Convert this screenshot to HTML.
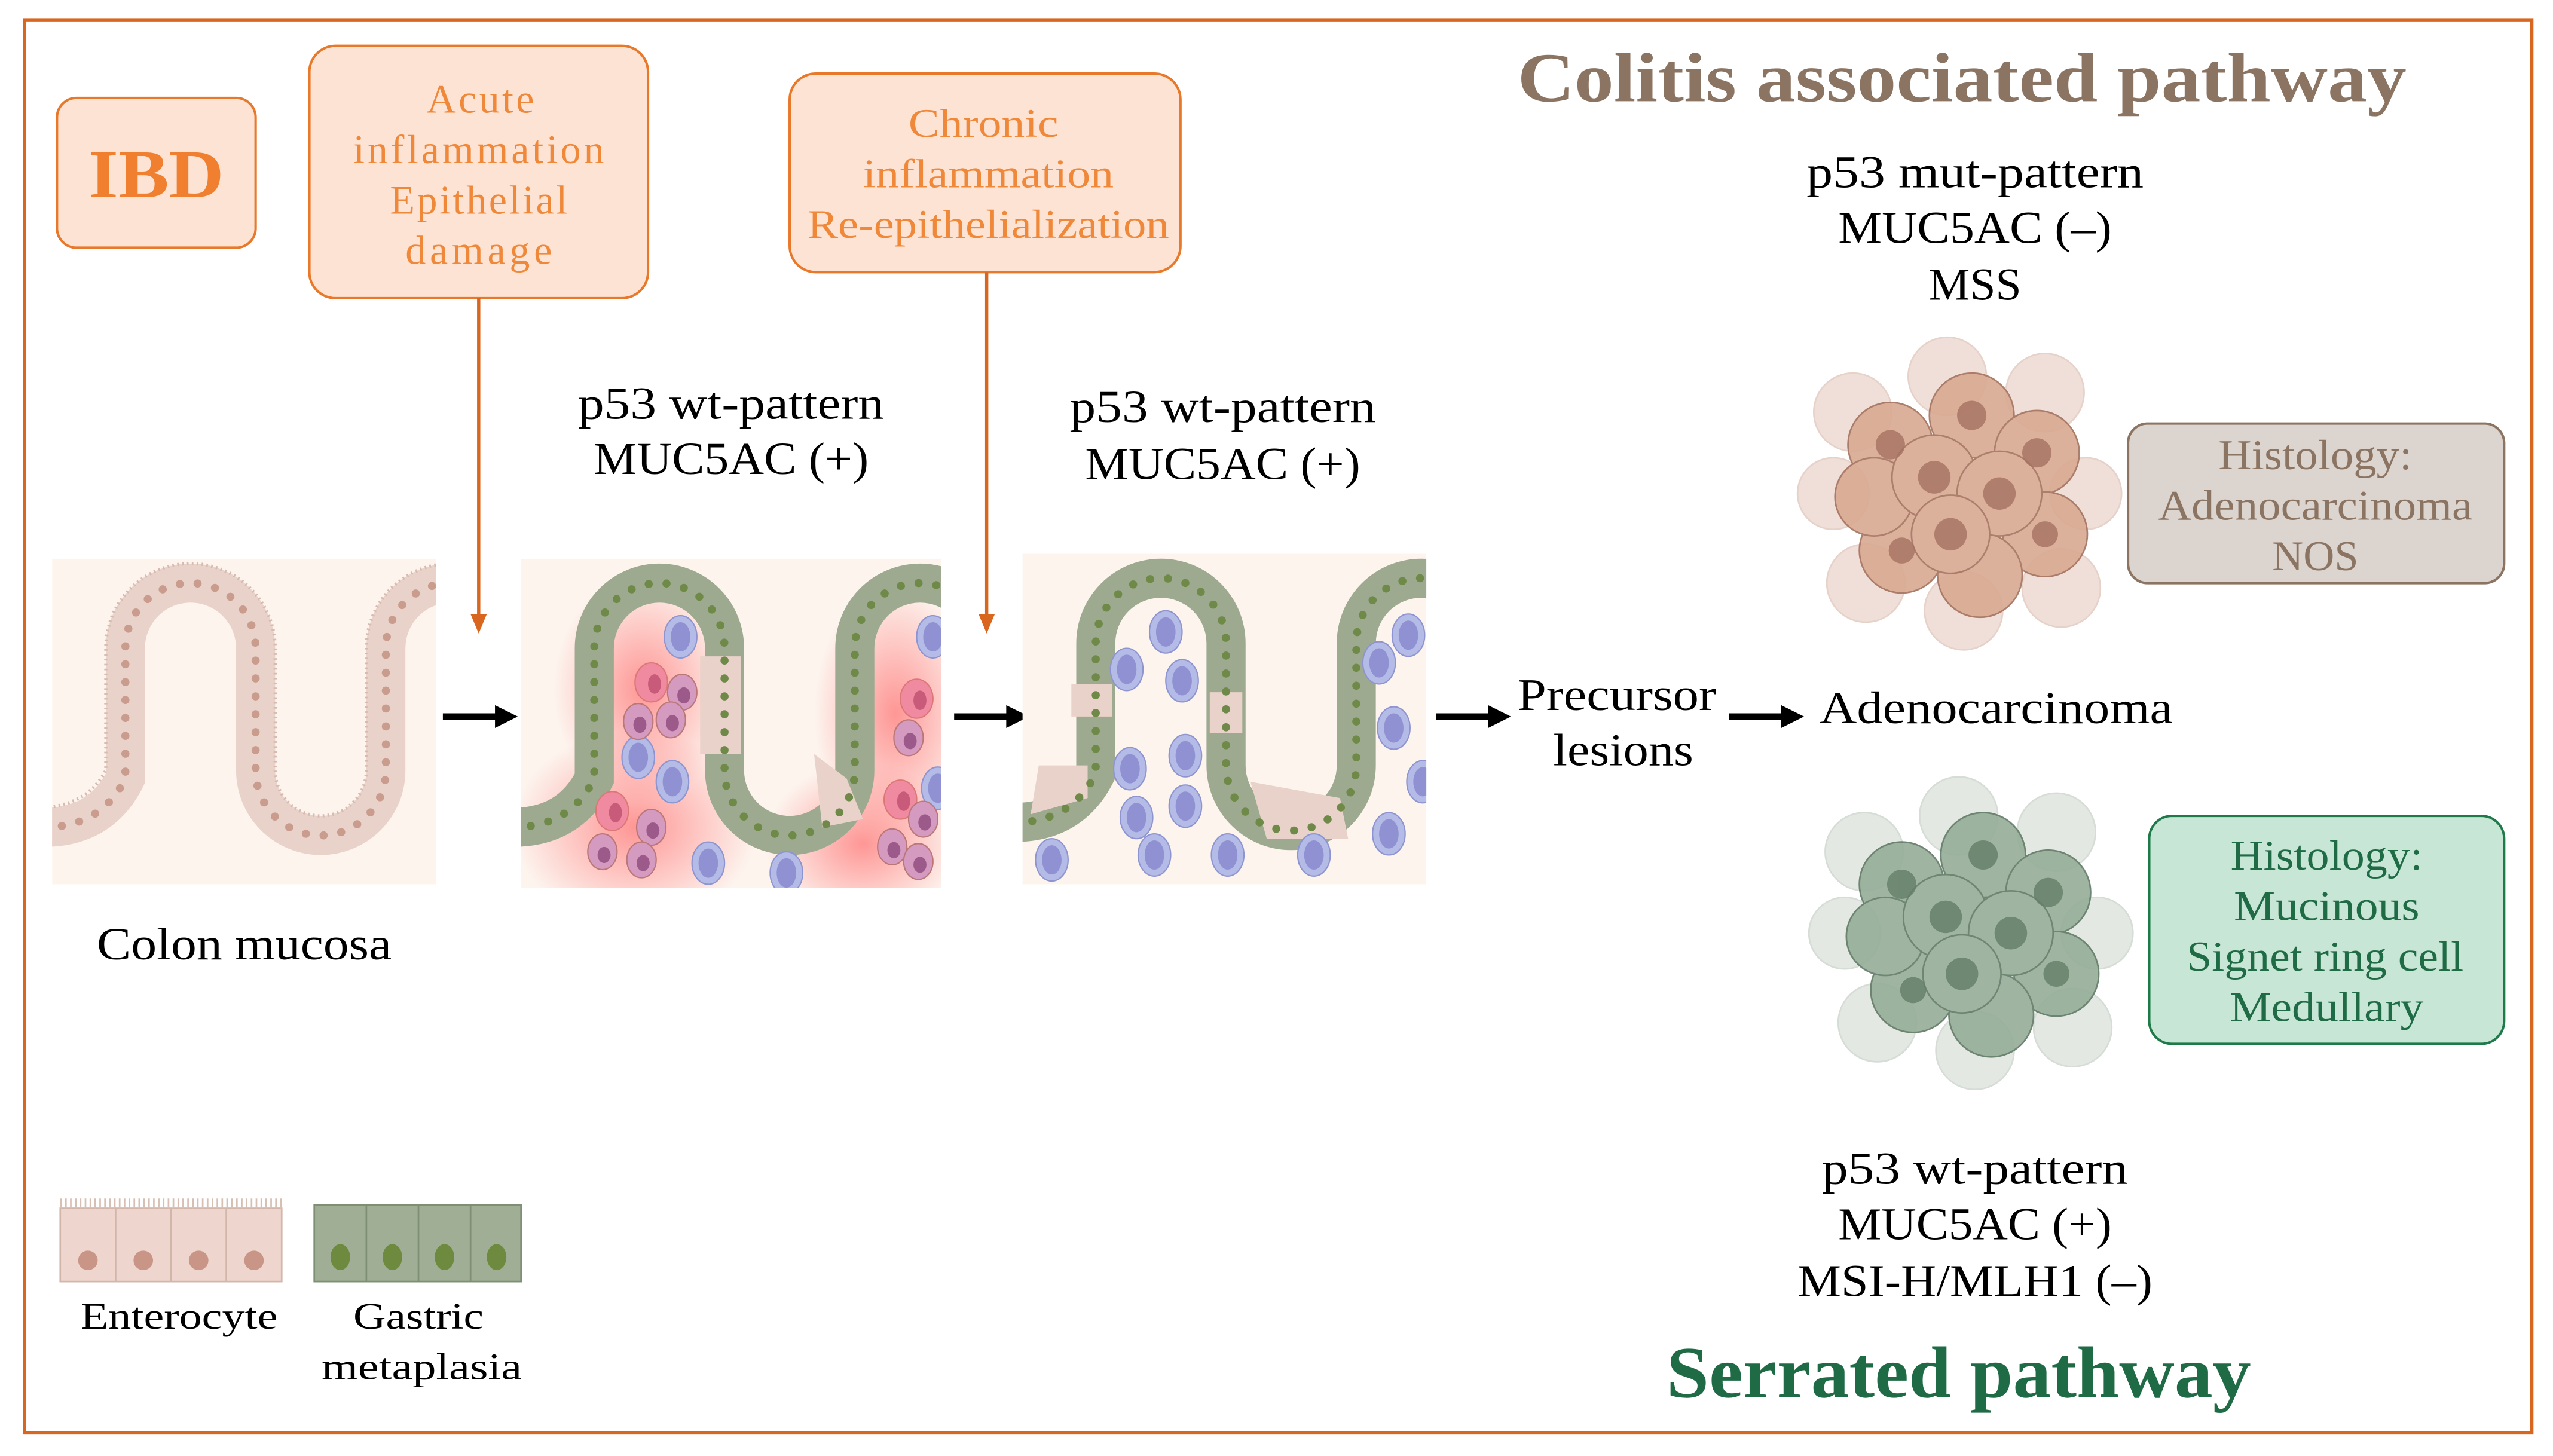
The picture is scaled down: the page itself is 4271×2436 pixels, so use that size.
<!DOCTYPE html>
<html><head><meta charset="utf-8"><style>
html,body{margin:0;padding:0;background:#fff;}
svg{display:block;}
text{font-family:"Liberation Serif",serif;}
</style></head><body>
<svg width="4271" height="2436" viewBox="0 0 1568 894" xmlns="http://www.w3.org/2000/svg">
<defs>
<radialGradient id="rg"><stop offset="0" stop-color="#f77" stop-opacity="0.75"/><stop offset="1" stop-color="#f77" stop-opacity="0"/></radialGradient>
<clipPath id="c1"><rect x="0" y="0" width="236" height="200"/></clipPath>
<clipPath id="c2"><rect x="0" y="0" width="258" height="202"/></clipPath>
<clipPath id="c3"><rect x="0" y="0" width="248" height="203"/></clipPath>
<g id="bc"><ellipse rx="10" ry="13" fill="#b3bbe6" stroke="#8d94d0" stroke-width="0.8"/><ellipse rx="6" ry="9" fill="#8f91d2"/></g>
<g id="nc"><ellipse rx="10" ry="12" fill="#f08aa0" stroke="#d77" stroke-width="0.8"/><ellipse cx="2" cy="1" rx="4" ry="6" fill="#c85a7a"/></g>
<g id="nc2"><ellipse rx="9" ry="11" fill="#d59ac0" stroke="#b77" stroke-width="0.8"/><ellipse cx="1" cy="2" rx="4" ry="5" fill="#9c5a8a"/></g>
</defs>
<rect x="0" y="0" width="1568" height="894" fill="#fff"/>
<rect x="15" y="12" width="1540" height="868" fill="none" stroke="#d9661f" stroke-width="2"/>

<rect x="35" y="60" width="122" height="92" rx="12" fill="#fde3d4" stroke="#e8782a" stroke-width="1.5"/>
<text x="96" y="121" font-size="42" font-weight="bold" fill="#f08030" text-anchor="middle" textLength="83" lengthAdjust="spacingAndGlyphs">IBD</text>

<rect x="190" y="28" width="208" height="155" rx="16" fill="#fde3d4" stroke="#e8782a" stroke-width="1.5"/>
<g font-size="25" fill="#f0883a" text-anchor="middle" lengthAdjust="spacingAndGlyphs">
<text x="295" y="69" textLength="66">Acute</text><text x="294" y="100" textLength="154">inflammation</text><text x="294" y="131" textLength="109">Epithelial</text><text x="294" y="162" textLength="90">damage</text>
</g>
<line x1="294" y1="183" x2="294" y2="378" stroke="#d9661f" stroke-width="2"/>
<polygon points="289,377 299,377 294,389" fill="#d9661f"/>

<rect x="485" y="45" width="240" height="122" rx="16" fill="#fde3d4" stroke="#e8782a" stroke-width="1.5"/>
<g font-size="25" fill="#f0883a" text-anchor="middle">
<text x="604" y="84" textLength="92" lengthAdjust="spacingAndGlyphs">Chronic</text><text x="607" y="115" textLength="154" lengthAdjust="spacingAndGlyphs">inflammation</text><text x="607" y="146" textLength="222" lengthAdjust="spacingAndGlyphs">Re-epithelialization</text>
</g>
<line x1="606" y1="167" x2="606" y2="378" stroke="#d9661f" stroke-width="2"/>
<polygon points="601,377 611,377 606,389" fill="#d9661f"/>

<text x="1205" y="62" font-size="43" font-weight="bold" fill="#8c7462" text-anchor="middle" textLength="546" lengthAdjust="spacingAndGlyphs">Colitis associated pathway</text>
<g font-size="28" fill="#000" text-anchor="middle">
<text x="1213" y="115" textLength="207" lengthAdjust="spacingAndGlyphs">p53 mut-pattern</text><text x="1213" y="149" textLength="168" lengthAdjust="spacingAndGlyphs">MUC5AC (–)</text><text x="1213" y="184" textLength="57" lengthAdjust="spacingAndGlyphs">MSS</text>
<text x="449" y="257" textLength="188" lengthAdjust="spacingAndGlyphs">p53 wt-pattern</text><text x="449" y="291" textLength="169" lengthAdjust="spacingAndGlyphs">MUC5AC (+)</text>
<text x="751" y="259" textLength="188" lengthAdjust="spacingAndGlyphs">p53 wt-pattern</text><text x="751" y="294" textLength="169" lengthAdjust="spacingAndGlyphs">MUC5AC (+)</text>
<text x="993" y="436" textLength="122" lengthAdjust="spacingAndGlyphs">Precursor</text><text x="997" y="470" textLength="86" lengthAdjust="spacingAndGlyphs">lesions</text>
<text x="1226" y="444" textLength="217" lengthAdjust="spacingAndGlyphs">Adenocarcinoma</text>
<text x="150" y="589" textLength="181" lengthAdjust="spacingAndGlyphs">Colon mucosa</text>
<text x="1213" y="727" textLength="188" lengthAdjust="spacingAndGlyphs">p53 wt-pattern</text><text x="1213" y="761" textLength="168" lengthAdjust="spacingAndGlyphs">MUC5AC (+)</text><text x="1213" y="796" textLength="218" lengthAdjust="spacingAndGlyphs">MSI-H/MLH1 (–)</text>
</g>
<text x="1203" y="858" font-size="45" font-weight="bold" fill="#1f6b45" text-anchor="middle" textLength="359" lengthAdjust="spacingAndGlyphs">Serrated pathway</text>

<g stroke="#000" stroke-width="4">
<line x1="272" y1="440" x2="306" y2="440"/><line x1="586" y1="440" x2="620" y2="440"/>
<line x1="882" y1="440" x2="916" y2="440"/><line x1="1062" y1="440" x2="1096" y2="440"/>
</g>
<g fill="#000">
<polygon points="304,433 318,440 304,447"/><polygon points="618,433 632,440 618,447"/>
<polygon points="914,433 928,440 914,447"/><polygon points="1094,433 1108,440 1094,447"/>
</g>

<g transform="translate(32,343)">
<g clip-path="url(#c1)">
<rect width="236" height="200" fill="#fdf4ee"/>
<path d="M-5,165 Q30,165 45,135 L45,55 A40,40 0 0 1 125,55 L125,130 A40,40 0 0 0 205,130 L205,55 A40,40 0 0 1 285,55" fill="none" stroke="#e9d2c9" stroke-width="24"/>
<path d="M-5,165 Q30,165 45,135 L45,55 A40,40 0 0 1 125,55 L125,130 A40,40 0 0 0 205,130 L205,55 A40,40 0 0 1 285,55" fill="none" stroke="#c99c8e" stroke-width="5" stroke-linecap="round" stroke-dasharray="0 11"/>
<path d="M-5,153 Q22,151 33,130 L33,55 A52,52 0 0 1 137,55 L137,130 A28,28 0 0 0 193,130 L193,55 A52,52 0 0 1 297,55" fill="none" stroke="#d8bbb0" stroke-width="2" stroke-dasharray="1 2"/>
</g></g>

<g transform="translate(320,343)">
<g clip-path="url(#c2)">
<rect width="258" height="202" fill="#fdf4ee"/>
<ellipse cx="75" cy="80" rx="55" ry="70" fill="url(#rg)"/>
<ellipse cx="70" cy="165" rx="75" ry="60" fill="url(#rg)"/>
<ellipse cx="230" cy="95" rx="50" ry="80" fill="url(#rg)"/>
<ellipse cx="210" cy="175" rx="60" ry="50" fill="url(#rg)"/>
<path d="M-5,165 Q30,165 45,135 L45,55 A40,40 0 0 1 125,55 L125,130 A40,40 0 0 0 205,130 L205,55 A40,40 0 0 1 285,55" fill="none" stroke="#9daa90" stroke-width="24"/>
<path d="M110,60 L135,60 L135,120 L110,120 Z M180,120 L200,135 L210,160 L185,165 Z" fill="#e9d2c9"/>
<path d="M-5,165 Q30,165 45,135 L45,55 A40,40 0 0 1 125,55 L125,130 A40,40 0 0 0 205,130 L205,55 A40,40 0 0 1 285,55" fill="none" stroke="#6f8a48" stroke-width="5" stroke-linecap="round" stroke-dasharray="0 11"/>
<use href="#bc" x="98" y="48"/><use href="#bc" x="72" y="122"/><use href="#bc" x="93" y="137"/>
<use href="#bc" x="253" y="48"/><use href="#bc" x="256" y="141"/><use href="#bc" x="115" y="187"/><use href="#bc" x="163" y="193"/>
<use href="#nc" x="80" y="76"/><use href="#nc2" x="99" y="82"/><use href="#nc2" x="72" y="100"/><use href="#nc2" x="92" y="99"/>
<use href="#nc" x="243" y="86"/><use href="#nc2" x="238" y="110"/>
<use href="#nc" x="56" y="155"/><use href="#nc2" x="80" y="165"/><use href="#nc2" x="50" y="180"/><use href="#nc2" x="74" y="185"/>
<use href="#nc" x="233" y="148"/><use href="#nc2" x="247" y="160"/><use href="#nc2" x="228" y="177"/><use href="#nc2" x="244" y="186"/>
</g></g>

<g transform="translate(628,340)">
<g clip-path="url(#c3)">
<rect width="248" height="203" fill="#fdf4ee"/>
<path d="M-5,165 Q30,165 45,135 L45,55 A40,40 0 0 1 125,55 L125,130 A40,40 0 0 0 205,130 L205,55 A40,40 0 0 1 285,55" fill="none" stroke="#9daa90" stroke-width="24"/>
<path d="M115,85 L135,85 L135,110 L115,110 Z M30,80 L55,80 L55,100 L30,100 Z M10,130 L40,130 L40,150 L5,160 Z M140,140 L195,150 L200,175 L150,175 Z" fill="#e9d2c9"/>
<path d="M-5,165 Q30,165 45,135 L45,55 A40,40 0 0 1 125,55 L125,130 A40,40 0 0 0 205,130 L205,55 A40,40 0 0 1 285,55" fill="none" stroke="#6f8a48" stroke-width="5" stroke-linecap="round" stroke-dasharray="0 11"/>
<use href="#bc" x="88" y="48"/><use href="#bc" x="64" y="71"/><use href="#bc" x="98" y="78"/>
<use href="#bc" x="66" y="132"/><use href="#bc" x="100" y="124"/><use href="#bc" x="70" y="162"/><use href="#bc" x="100" y="155"/>
<use href="#bc" x="237" y="50"/><use href="#bc" x="219" y="67"/><use href="#bc" x="228" y="107"/><use href="#bc" x="246" y="140"/>
<use href="#bc" x="18" y="188"/><use href="#bc" x="81" y="185"/><use href="#bc" x="126" y="185"/><use href="#bc" x="179" y="185"/><use href="#bc" x="225" y="172"/>
</g></g>

<g transform="translate(1206,303)">
<g fill="#ecd8cf" stroke="#e0c8bc" stroke-width="1" opacity="0.8">
<circle cx="-68" cy="-50" r="24"/><circle cx="-10" cy="-72" r="24"/><circle cx="50" cy="-62" r="24"/><circle cx="75" cy="0" r="22"/><circle cx="60" cy="58" r="24"/><circle cx="0" cy="72" r="24"/><circle cx="-60" cy="55" r="24"/><circle cx="-80" cy="0" r="22"/>
</g>
<g fill="#d9a992" stroke="#a4725e" stroke-width="1" opacity="0.9">
<circle cx="-45" cy="-30" r="26"/><circle cx="5" cy="-48" r="26"/><circle cx="45" cy="-25" r="26"/><circle cx="50" cy="25" r="26"/><circle cx="10" cy="50" r="26"/><circle cx="-38" cy="35" r="26"/><circle cx="-55" cy="2" r="24"/>
<circle cx="-18" cy="-10" r="26"/><circle cx="22" cy="0" r="26"/><circle cx="-8" cy="25" r="24"/>
</g>
<g fill="#a67262" opacity="0.8"><circle cx="-45" cy="-30" r="9"/><circle cx="5" cy="-48" r="9"/><circle cx="45" cy="-25" r="9"/><circle cx="-18" cy="-10" r="10"/><circle cx="22" cy="0" r="10"/><circle cx="-8" cy="25" r="10"/><circle cx="-38" cy="35" r="8"/><circle cx="50" cy="25" r="8"/></g>
</g>
<g transform="translate(1213,573)">
<g fill="#dfe4df" stroke="#cfd6cf" stroke-width="1" opacity="0.85">
<circle cx="-68" cy="-50" r="24"/><circle cx="-10" cy="-72" r="24"/><circle cx="50" cy="-62" r="24"/><circle cx="75" cy="0" r="22"/><circle cx="60" cy="58" r="24"/><circle cx="0" cy="72" r="24"/><circle cx="-60" cy="55" r="24"/><circle cx="-80" cy="0" r="22"/>
</g>
<g fill="#95ae98" stroke="#617a65" stroke-width="1" opacity="0.9">
<circle cx="-45" cy="-30" r="26"/><circle cx="5" cy="-48" r="26"/><circle cx="45" cy="-25" r="26"/><circle cx="50" cy="25" r="26"/><circle cx="10" cy="50" r="26"/><circle cx="-38" cy="35" r="26"/><circle cx="-55" cy="2" r="24"/>
<circle cx="-18" cy="-10" r="26"/><circle cx="22" cy="0" r="26"/><circle cx="-8" cy="25" r="24"/>
</g>
<g fill="#647e68" opacity="0.8"><circle cx="-45" cy="-30" r="9"/><circle cx="5" cy="-48" r="9"/><circle cx="45" cy="-25" r="9"/><circle cx="-18" cy="-10" r="10"/><circle cx="22" cy="0" r="10"/><circle cx="-8" cy="25" r="10"/><circle cx="-38" cy="35" r="8"/><circle cx="50" cy="25" r="8"/></g>
</g>

<rect x="1307" y="260" width="231" height="98" rx="12" fill="#dcd4cf" stroke="#8c7462" stroke-width="1.5"/>
<g font-size="26" fill="#8c7462" text-anchor="middle"><text x="1422" y="288" textLength="119" lengthAdjust="spacingAndGlyphs">Histology:</text><text x="1422" y="319" textLength="193" lengthAdjust="spacingAndGlyphs">Adenocarcinoma</text><text x="1422" y="350" textLength="53" lengthAdjust="spacingAndGlyphs">NOS</text></g>
<rect x="1320" y="501" width="218" height="140" rx="14" fill="#c8e6d6" stroke="#1f7a4a" stroke-width="1.5"/>
<g font-size="26" fill="#1f6b45" text-anchor="middle"><text x="1429" y="534" textLength="118" lengthAdjust="spacingAndGlyphs">Histology:</text><text x="1429" y="565" textLength="114" lengthAdjust="spacingAndGlyphs">Mucinous</text><text x="1428" y="596" textLength="170" lengthAdjust="spacingAndGlyphs">Signet ring cell</text><text x="1429" y="627" textLength="119" lengthAdjust="spacingAndGlyphs">Medullary</text></g>

<g>
<rect x="37" y="742" width="136" height="45" fill="#eed6ce" stroke="#d3b6aa"/>
<g stroke="#d3b6aa"><line x1="71" y1="742" x2="71" y2="787"/><line x1="105" y1="742" x2="105" y2="787"/><line x1="139" y1="742" x2="139" y2="787"/></g>
<line x1="37" y1="739" x2="173" y2="739" stroke="#d8bfb4" stroke-width="6" stroke-dasharray="1 2"/>
<g fill="#c99586"><circle cx="54" cy="774" r="6"/><circle cx="88" cy="774" r="6"/><circle cx="122" cy="774" r="6"/><circle cx="156" cy="774" r="6"/></g>
<rect x="193" y="740" width="127" height="47" fill="#9fae95" stroke="#7f8f76"/>
<g stroke="#7f8f76"><line x1="225" y1="740" x2="225" y2="787"/><line x1="257" y1="740" x2="257" y2="787"/><line x1="289" y1="740" x2="289" y2="787"/></g>
<g fill="#6d8a3e"><ellipse cx="209" cy="772" rx="6" ry="8"/><ellipse cx="241" cy="772" rx="6" ry="8"/><ellipse cx="273" cy="772" rx="6" ry="8"/><ellipse cx="305" cy="772" rx="6" ry="8"/></g>
</g>
<g font-size="23" fill="#000" text-anchor="middle"><text x="110" y="816" textLength="121" lengthAdjust="spacingAndGlyphs">Enterocyte</text><text x="257" y="816" textLength="80" lengthAdjust="spacingAndGlyphs">Gastric</text><text x="259" y="847" textLength="123" lengthAdjust="spacingAndGlyphs">metaplasia</text></g>
</svg>
</body></html>
